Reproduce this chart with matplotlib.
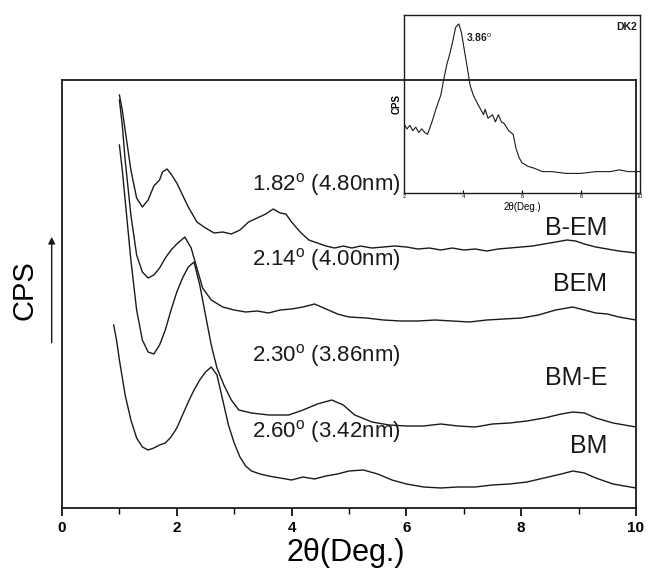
import numpy as np
import matplotlib
matplotlib.use('Agg')
from matplotlib import pyplot as plt

plt.rcParams['font.family'] = ['Liberation Sans', 'DejaVu Sans']
plt.rcParams['mathtext.fontset'] = 'custom'
plt.rcParams['mathtext.rm'] = 'Liberation Sans'

# B-EM
x_bem2 = [1.00, 1.05, 1.10, 1.20, 1.30, 1.40, 1.50, 1.60, 1.70, 1.75, 1.83, 1.90, 2.00, 2.10,
          2.20, 2.35, 2.50, 2.65, 2.80, 2.95, 3.10, 3.25, 3.40, 3.55, 3.68, 3.80, 3.90, 4.00,
          4.15, 4.30, 4.45, 4.60, 4.75, 4.90, 5.05, 5.20, 5.40, 5.60, 5.80, 6.00, 6.20, 6.40,
          6.60, 6.80, 7.00, 7.20, 7.40, 7.60, 7.80, 8.00, 8.20, 8.40, 8.60, 8.80, 8.95, 9.10,
          9.30, 9.50, 9.70, 9.85, 10.0]
y_bem2 = [413, 398, 378, 338, 310, 301, 308, 322, 328, 336, 339, 334, 325, 313,
          301, 286, 280, 275, 276, 274, 278, 286, 290, 294, 299, 295, 294, 286,
          276, 268, 265, 262, 260, 262, 260, 262, 260, 261, 262, 261, 259, 260,
          258, 260, 258, 259, 257, 259, 260, 261, 262, 264, 266, 268, 267, 264,
          261, 259, 257, 256, 255]

# BEM
x_bem = [1.00, 1.05, 1.10, 1.20, 1.30, 1.40, 1.50, 1.60, 1.70, 1.80, 1.90, 2.00, 2.14, 2.25,
         2.35, 2.45, 2.60, 2.80, 3.00, 3.20, 3.40, 3.60, 3.80, 4.00, 4.20, 4.40, 4.60, 4.80,
         5.00, 5.30, 5.60, 5.90, 6.20, 6.50, 6.80, 7.10, 7.40, 7.70, 8.00, 8.30, 8.60, 8.90,
         9.10, 9.30, 9.50, 9.70, 10.0]
y_bem = [408, 383, 348, 293, 253, 236, 230, 233, 240, 250, 258, 264, 271, 260,
         240, 220, 208, 201, 198, 196, 197, 195, 198, 199, 201, 204, 199, 194,
         191, 190, 188, 187, 187, 188, 187, 186, 188, 189, 190, 193, 198, 201,
         198, 195, 194, 191, 188]

# BM-E
x_bme = [1.00, 1.05, 1.10, 1.20, 1.30, 1.40, 1.50, 1.60, 1.70, 1.80, 1.90, 2.00, 2.10, 2.20,
         2.30, 2.40, 2.50, 2.60, 2.70, 2.82, 2.95, 3.08, 3.30, 3.60, 3.95, 4.20, 4.45, 4.70,
         4.90, 5.10, 5.40, 5.70, 6.00, 6.30, 6.60, 6.90, 7.20, 7.50, 7.80, 8.10, 8.40, 8.70,
         8.90, 9.10, 9.30, 9.60, 10.0]
y_bme = [363, 338, 308, 248, 198, 168, 156, 154, 163, 178, 198, 216, 230, 241,
         246, 223, 193, 163, 140, 123, 108, 98, 95, 93, 93, 98, 104, 108,
         103, 93, 86, 83, 82, 82, 84, 82, 81, 84, 85, 87, 90, 94,
         96, 95, 90, 85, 81]

# BM
x_bm = [0.90, 0.95, 1.00, 1.10, 1.20, 1.30, 1.40, 1.50, 1.60, 1.70, 1.80, 1.90, 2.00, 2.10,
        2.20, 2.30, 2.40, 2.50, 2.60, 2.70, 2.80, 2.90, 3.00, 3.10, 3.20, 3.30, 3.45, 3.60,
        3.80, 4.00, 4.20, 4.40, 4.60, 4.80, 5.00, 5.25, 5.50, 5.75, 6.00, 6.30, 6.60, 6.90,
        7.20, 7.50, 7.80, 8.10, 8.40, 8.70, 8.90, 9.10, 9.30, 9.60, 10.0]
y_bm = [183, 168, 148, 113, 88, 70, 61, 58, 60, 63, 65, 71, 80, 93,
        106, 118, 128, 136, 141, 133, 108, 83, 65, 51, 42, 37, 34, 32,
        30, 28, 31, 29, 32, 34, 37, 38, 34, 28, 24, 21, 20, 21,
        21, 23, 24, 26, 30, 34, 37, 35, 30, 24, 20]

# inset DK2
x_dk2 = [2.00, 2.10, 2.20, 2.30, 2.40, 2.50, 2.60, 2.70, 2.80, 2.95, 3.10, 3.25, 3.35, 3.45,
         3.55, 3.65, 3.75, 3.86, 3.95, 4.05, 4.15, 4.25, 4.35, 4.50, 4.60, 4.70, 4.75, 4.85,
         5.00, 5.10, 5.20, 5.30, 5.40, 5.55, 5.70, 5.80, 5.90, 6.00, 6.10, 6.20, 6.40, 6.70,
         7.00, 7.50, 8.00, 8.50, 9.00, 9.30, 9.60, 10.0]
y_dk2 = [0.39, 0.36, 0.38, 0.35, 0.37, 0.34, 0.36, 0.34, 0.33, 0.40, 0.48, 0.55, 0.64, 0.72,
         0.78, 0.85, 0.93, 0.95, 0.90, 0.80, 0.70, 0.60, 0.55, 0.50, 0.47, 0.44, 0.47, 0.42,
         0.44, 0.40, 0.44, 0.40, 0.39, 0.35, 0.33, 0.25, 0.20, 0.17, 0.16, 0.15, 0.14, 0.12,
         0.12, 0.11, 0.11, 0.12, 0.12, 0.13, 0.12, 0.12]

peak_labels = [r'1.82$^{\rm o}$ (4.80nm)', r'2.14$^{\rm o}$ (4.00nm)',
               r'2.30$^{\rm o}$ (3.86nm)', r'2.60$^{\rm o}$ (3.42nm)']
peak_label_y = [324, 249, 152, 76]
sample_names = ['B-EM', 'BEM', 'BM-E', 'BM']
sample_label_y = [280, 224, 130, 62]

lc = '#1a1a1a'
fig = plt.figure(figsize=(6.5, 5.74), dpi=100)
ax = fig.add_axes([0.0954, 0.115, 0.883, 0.7456])

for xs, ys in [(x_bem2, y_bem2), (x_bem, y_bem), (x_bme, y_bme), (x_bm, y_bm)]:
    ax.plot(xs, ys, color=lc, lw=1.0)

ax.set_xlim(0, 10)
ax.set_ylim(0, 428)
ax.set_yticks([])
ax.set_xticks([0, 2, 4, 6, 8, 10])
ax.set_xticks([1, 3, 5, 7, 9], minor=True)
ax.tick_params(axis='x', which='major', direction='out', length=6, width=1.2,
               labelsize=11)
ax.tick_params(axis='x', which='minor', direction='out', length=4, width=1.0)
for lab in ax.get_xticklabels():
    lab.set_fontweight('bold')
for sp in ax.spines.values():
    sp.set_linewidth(1.3)
    sp.set_color(lc)

ax.set_xlabel('2θ(Deg.)', fontsize=22, va='center')
ax.xaxis.set_label_coords(0.495, -0.105)
ax.set_ylabel('CPS', fontsize=21, va='center')
ax.yaxis.set_label_coords(-0.065, 0.51)
ax.annotate('', xy=(-0.018, 0.64), xytext=(-0.018, 0.38), xycoords='axes fraction',
            arrowprops=dict(arrowstyle='-|>', color=lc, lw=1.0, mutation_scale=10),
            annotation_clip=False)

for lab, yy in zip(peak_labels, peak_label_y):
    ax.text(3.31, yy, lab, fontsize=16, va='center', ha='left', color=lc)
for name, yy in zip(sample_names, sample_label_y):
    ax.text(9.5, yy, name, fontsize=18, va='center', ha='right', color=lc)

# inset
ins = fig.add_axes([0.6215, 0.6638, 0.363, 0.310])
ins.set_facecolor('none')
ins.plot(x_dk2, y_dk2, color=lc, lw=0.8)
ins.set_xlim(2, 10)
ins.set_ylim(0, 1)
ins.set_yticks([])
ins.set_xticks([2, 4, 6, 8, 10])
ins.tick_params(axis='x', direction='in', length=2, labelsize=4, pad=1)
for sp in ins.spines.values():
    sp.set_linewidth(1.0)
    sp.set_color(lc)
ins.set_xlabel('2θ(Deg.)', fontsize=7, labelpad=2)
ins.set_ylabel('CPS', fontsize=7, fontweight='bold', labelpad=2)
ins.text(4.1, 0.87, r'3.86$^{\rm o}$', fontsize=7.5, fontweight='bold', va='center', color=lc)
ins.text(9.9, 0.93, 'DK2', fontsize=7.5, fontweight='bold', va='center', ha='right', color=lc)

fig.savefig('out.png', dpi=100)
